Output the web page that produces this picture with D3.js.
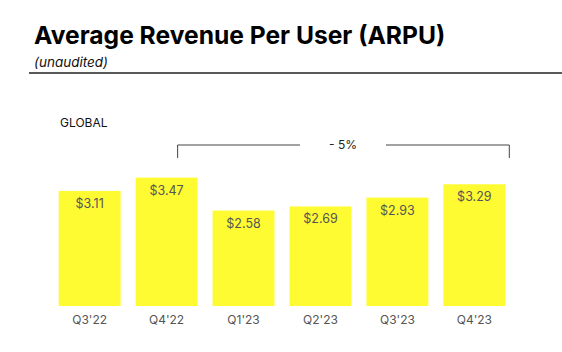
<!DOCTYPE html>
<html>
<head>
<meta charset="utf-8">
<script src="https://cdn.jsdelivr.net/npm/d3@7"></script>
<style>
  body { margin: 0; background: #fff; }
  svg { display: block; font-family: "Inter", "Noto Sans", sans-serif; }
</style>
</head>
<body>
<div id="chart"></div>
<script>
// chart data
const quarters = ["Q3'22", "Q4'22", "Q1'23", "Q2'23", "Q3'23", "Q4'23"];
const arpu = [3.11, 3.47, 2.58, 2.69, 2.93, 3.29];
const valueLabels = ["$3.11", "$3.47", "$2.58", "$2.69", "$2.93", "$3.29"];
const changeLabel = "- 5%";

const width = 562, height = 352;

const svg = d3.select("#chart").append("svg")
	.attr("width", width)
	.attr("height", height);

// header
svg.append("text")
	.attr("x", 34).attr("y", 44)
	.attr("font-size", 24.6).attr("font-weight", 700)
	.attr("fill", "#000")
	.text("Average Revenue Per User (ARPU)");

svg.append("text")
	.attr("x", 34).attr("y", 67)
	.attr("font-size", 13.5).attr("font-style", "italic")
	.attr("fill", "#111")
	.text("(unaudited)");

svg.append("line")
	.attr("x1", 29).attr("x2", width)
	.attr("y1", 73).attr("y2", 73)
	.attr("stroke", "#222").attr("stroke-width", 1.5);

svg.append("text")
	.attr("x", 60).attr("y", 127)
	.attr("font-size", 12)
	.attr("fill", "#111")
	.text("GLOBAL");

// scales
const baseY = 306;
const x = d3.scaleBand()
	.domain(quarters)
	.range([51, 513])
	.paddingInner(0.195)
	.paddingOuter(0.1);

const y = d3.scaleLinear()
	.domain([0, 1])
	.range([baseY, baseY - 37]);

const bars = svg.append("g");

bars.selectAll("rect")
	.data(arpu)
	.join("rect")
	.attr("x", (d, i) => x(quarters[i]))
	.attr("y", d => y(d))
	.attr("width", x.bandwidth())
	.attr("height", d => baseY - y(d))
	.attr("fill", "#fffb33");

bars.selectAll("text.val")
	.data(arpu)
	.join("text")
	.attr("class", "val")
	.attr("x", (d, i) => x(quarters[i]) + x.bandwidth() / 2)
	.attr("y", d => y(d) + 17)
	.attr("text-anchor", "middle")
	.attr("font-size", 12.5)
	.attr("fill", "#555")
	.text((d, i) => valueLabels[i]);

// category axis (no line, no ticks)
const xAxis = svg.append("g")
	.attr("transform", "translate(0," + baseY + ")")
	.call(d3.axisBottom(x).tickSize(0).tickPadding(9));
xAxis.select(".domain").remove();
xAxis.selectAll("text")
	.attr("font-family", "Inter, sans-serif")
	.attr("font-size", 12)
	.attr("fill", "#555");

// change bracket from Q4'22 to Q4'23
const bx1 = x(quarters[1]) + 42;
const bx2 = x(quarters[5]) + x.bandwidth() + 4;
const by = 145;
const gapL = 300, gapR = 386;

const bracket = svg.append("g")
	.attr("fill", "none")
	.attr("stroke", "#444")
	.attr("stroke-width", 1);

bracket.append("path")
	.attr("d", "M" + bx1 + "," + (by + 13) + "V" + by + "H" + gapL);
bracket.append("path")
	.attr("d", "M" + gapR + "," + by + "H" + bx2 + "V" + (by + 13));

svg.append("text")
	.attr("x", (gapL + gapR) / 2)
	.attr("y", by + 4)
	.attr("text-anchor", "middle")
	.attr("font-size", 12)
	.attr("fill", "#222")
	.text(changeLabel);
</script>
</body>
</html>
